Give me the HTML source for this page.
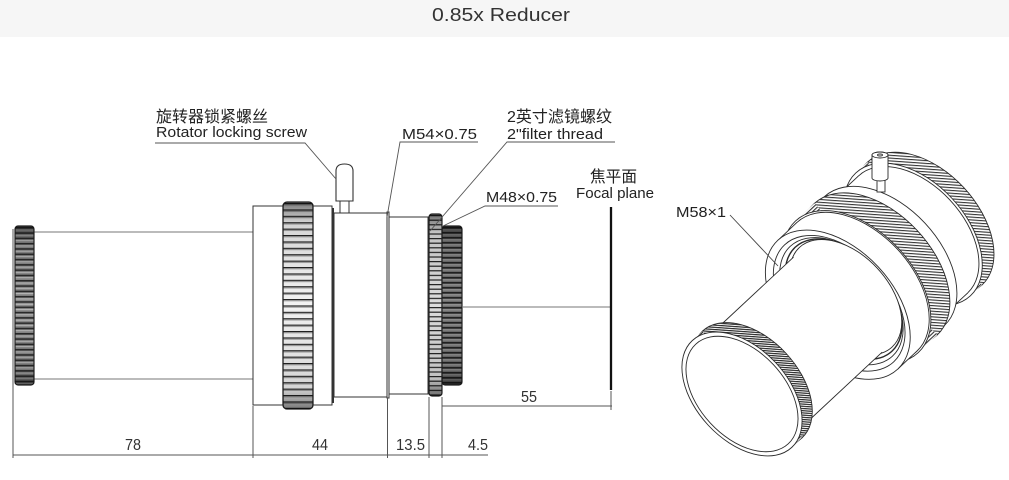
<!DOCTYPE html>
<html><head><meta charset="utf-8"><style>
html,body{margin:0;padding:0;background:#fff;width:1009px;height:480px;overflow:hidden}
svg{position:absolute;left:0;top:0;font-family:"Liberation Sans","Noto Sans CJK SC",sans-serif}
</style></head><body>
<svg width="1009" height="480" viewBox="0 0 1009 480" xmlns="http://www.w3.org/2000/svg">
<defs>
<pattern id="kb" patternUnits="userSpaceOnUse" x="0" y="203" width="10" height="6.4"><rect width="10" height="6.4" fill="#f2f2f2"/><rect width="10" height="1.2" fill="#222"/><rect y="1.2" width="10" height="1.1" fill="#9a9a9a"/></pattern>
<pattern id="kd" patternUnits="userSpaceOnUse" x="0" y="227" width="10" height="5.3"><rect width="10" height="5.3" fill="#8a8a8a"/><rect width="10" height="1.6" fill="#2a2a2a"/><rect y="2.6" width="10" height="0.9" fill="#c4c4c4"/></pattern>
<pattern id="ks" patternUnits="userSpaceOnUse" x="0" y="215" width="10" height="4.6"><rect width="10" height="4.6" fill="#dcdcdc"/><rect width="10" height="1.2" fill="#222"/></pattern>
<pattern id="kd2" patternUnits="userSpaceOnUse" x="0" y="227" width="10" height="5"><rect width="10" height="5" fill="#6e6e6e"/><rect width="10" height="1.6" fill="#222"/><rect y="2.5" width="10" height="0.8" fill="#b0b0b0"/></pattern>
<linearGradient id="cyl" x1="0" y1="0" x2="0" y2="1">
<stop offset="0" stop-color="#000" stop-opacity="0.5"/><stop offset="0.1" stop-color="#000" stop-opacity="0.12"/><stop offset="0.5" stop-color="#000" stop-opacity="0"/><stop offset="0.9" stop-color="#000" stop-opacity="0.12"/><stop offset="1" stop-color="#000" stop-opacity="0.5"/></linearGradient>
<pattern id="h2" patternUnits="userSpaceOnUse" width="2.2" height="10" patternTransform="rotate(47)"><rect width="2.2" height="10" fill="#fff"/><rect width="1.2" height="10" fill="#2a2a2a"/></pattern>
<pattern id="h3" patternUnits="userSpaceOnUse" width="2.8" height="10" patternTransform="rotate(47)"><rect width="2.8" height="10" fill="#fff"/><rect width="1.1" height="10" fill="#333"/></pattern>
</defs>

<!-- header -->
<rect x="0" y="0" width="1009" height="37" fill="#f6f6f6"/>
<text x="501" y="21" font-size="18" fill="#333" text-anchor="middle" textLength="138" lengthAdjust="spacingAndGlyphs">0.85x Reducer</text>

<!-- ================= SIDE VIEW ================= -->
<g stroke="#333" stroke-width="1" fill="none">
  <!-- tube -->
  <line x1="34" y1="232" x2="253" y2="232" stroke="#777"/>
  <line x1="34" y1="379" x2="253" y2="379" stroke="#777"/>
  <!-- left edge / ext -->
  <line x1="13" y1="229" x2="13" y2="458" stroke="#555"/>
  <!-- body -->
  <rect x="253" y="206" width="79" height="199" fill="#fff"/>
  <line x1="333" y1="208" x2="333" y2="403" stroke-width="2"/>
  <!-- screw section -->
  <rect x="334" y="213" width="53" height="184" fill="#fff"/>
  <rect x="387" y="212" width="2" height="186" fill="#fff"/>
  <rect x="389" y="217" width="39" height="177" fill="#fff"/>
</g>
<!-- left cap knurl -->
<rect x="15" y="226" width="19" height="159" rx="3" fill="url(#kd)" stroke="#222" stroke-width="1.2"/>
<rect x="15" y="226" width="19" height="159" rx="3" fill="url(#cyl)"/>
<!-- big knurl -->
<rect x="283" y="202" width="30" height="207" rx="4" fill="url(#kb)" stroke="#222" stroke-width="1.3"/>
<rect x="283" y="202" width="30" height="207" rx="4" fill="url(#cyl)"/>
<!-- small knurl -->
<rect x="429" y="214" width="13" height="182" rx="3" fill="url(#ks)" stroke="#222" stroke-width="1.2"/>
<rect x="429" y="214" width="13" height="182" rx="3" fill="url(#cyl)"/>
<!-- dark knurl -->
<rect x="442" y="226" width="20" height="159" rx="3" fill="url(#kd2)" stroke="#222" stroke-width="1.2"/>
<rect x="442" y="226" width="20" height="159" rx="3" fill="url(#cyl)"/>
<!-- screw -->
<path d="M340,201 L340,213 M349,201 L349,213" stroke="#333" stroke-width="1"/>
<rect x="340" y="201" width="9" height="12" fill="#fff" stroke="#333" stroke-width="1"/>
<path d="M336,201 L336,171 Q336,164 344.5,164 Q353,164 353,171 L353,201 Z" fill="#fff" stroke="#333" stroke-width="1.1"/>
<!-- axis & focal plane -->
<line x1="462" y1="307" x2="610" y2="307" stroke="#777" stroke-width="1"/>
<line x1="611" y1="207" x2="611" y2="390" stroke="#111" stroke-width="2.3"/>

<!-- dimensions -->
<g stroke="#555" stroke-width="1">
  <line x1="253" y1="406" x2="253" y2="458"/>
  <line x1="387.5" y1="398" x2="387.5" y2="458"/>
  <line x1="429" y1="397" x2="429" y2="458"/>
  <line x1="442" y1="397" x2="442" y2="458"/>
  <line x1="611" y1="391" x2="611" y2="410"/>
  <line x1="13" y1="455" x2="488" y2="455"/>
  <line x1="442" y1="406" x2="612" y2="406"/>
</g>
<g font-size="16" fill="#333" text-anchor="middle">
  <text x="133" y="450" textLength="16" lengthAdjust="spacingAndGlyphs">78</text>
  <text x="320" y="450" textLength="16" lengthAdjust="spacingAndGlyphs">44</text>
  <text x="410.5" y="450" textLength="29" lengthAdjust="spacingAndGlyphs">13.5</text>
  <text x="478" y="450" textLength="20" lengthAdjust="spacingAndGlyphs">4.5</text>
  <text x="529" y="402" textLength="16" lengthAdjust="spacingAndGlyphs">55</text>
</g>

<!-- labels side view -->
<g fill="#222">
  <text x="156" y="122" font-size="16" textLength="112" lengthAdjust="spacingAndGlyphs">旋转器锁紧螺丝</text>
  <text x="156" y="137" font-size="15" textLength="151" lengthAdjust="spacingAndGlyphs">Rotator locking screw</text>
  <text x="402" y="139" font-size="15" textLength="75" lengthAdjust="spacingAndGlyphs">M54×0.75</text>
  <text x="507" y="122" font-size="16" textLength="105" lengthAdjust="spacingAndGlyphs">2英寸滤镜螺纹</text>
  <text x="507" y="139" font-size="15" textLength="96" lengthAdjust="spacingAndGlyphs">2"filter thread</text>
  <text x="486" y="202" font-size="15" textLength="71" lengthAdjust="spacingAndGlyphs">M48×0.75</text>
  <text x="590" y="182" font-size="16" textLength="47" lengthAdjust="spacingAndGlyphs">焦平面</text>
  <text x="576" y="198" font-size="15" textLength="78" lengthAdjust="spacingAndGlyphs">Focal plane</text>
  <text x="676" y="217" font-size="15" textLength="50" lengthAdjust="spacingAndGlyphs">M58×1</text>
</g>
<g stroke="#555" stroke-width="0.9" fill="none">
  <polyline points="155,143 305,143 336,179"/>
  <polyline points="478,142 400,142 387,217"/>
  <polyline points="615,142 507,142 430,231"/>
  <polyline points="558,206 485,206 443,226"/>
</g>

<!-- ================= ISOMETRIC VIEW ================= -->
<g stroke="#2a2a2a" stroke-width="0.9">
  <!-- back knurl ring t234-250 R84 -->
  <ellipse cx="924.8" cy="223.5" rx="84" ry="53" transform="rotate(47 924.8 223.5)" fill="url(#h3)"/>
  <polygon points="970.4,295.8 982.1,284.9 867.5,162.1 855.8,173" fill="url(#h3)" stroke="none"/>
  <ellipse cx="913.1" cy="234.4" rx="84" ry="53" transform="rotate(47 913.1 234.4)" fill="#fff"/>
  <!-- screw section t195-234 R80 -->
  <ellipse cx="913.1" cy="234.4" rx="80" ry="50.4" transform="rotate(47 913.1 234.4)" fill="#fff"/>
  <polygon points="939.1,319.5 967.7,292.9 858.5,175.9 829.9,202.5" fill="#fff" stroke="none"/>
  <line x1="939.1" y1="319.5" x2="967.7" y2="292.9"/>
  <line x1="829.9" y1="202.5" x2="858.5" y2="175.9"/>
  <ellipse cx="884.5" cy="261" rx="80" ry="50.4" transform="rotate(47 884.5 261)" fill="#fff"/>
  <!-- body rear t183-195 R88 -->
  <ellipse cx="884.5" cy="261" rx="88" ry="55.4" transform="rotate(47 884.5 261)" fill="#fff"/>
  <polygon points="935.8,333.5 944.5,325.3 824.5,196.7 815.8,204.9" fill="#fff" stroke="none"/>
  <ellipse cx="875.8" cy="269.2" rx="88" ry="55.4" transform="rotate(47 875.8 269.2)" fill="#fff"/>
</g>
<!-- iso screw -->
<g stroke="#2a2a2a" stroke-width="0.9" fill="#fff">
  <rect x="877" y="176" width="8" height="16"/>
  <path d="M872,178 L872,155 A8,3 0 0 1 888,155 L888,178 A8,3 0 0 1 872,178 Z"/>
  <ellipse cx="880" cy="155" rx="8" ry="3"/>
  <ellipse cx="880" cy="155" rx="2.5" ry="1"/>
</g>
<g stroke="#2a2a2a" stroke-width="0.9">
  <!-- middle knurl t157-183 R90 -->
  <ellipse cx="875.8" cy="269.2" rx="90" ry="56.7" transform="rotate(47 875.8 269.2)" fill="url(#h3)"/>
  <polygon points="918.2,352.7 937.2,335 814.4,203.4 795.4,221.1" fill="url(#h3)" stroke="none"/>
  <ellipse cx="856.8" cy="286.9" rx="90" ry="56.7" transform="rotate(47 856.8 286.9)" fill="#fff"/>
  <!-- body front t131-157 R88 -->
  <ellipse cx="856.8" cy="286.9" rx="88" ry="55.4" transform="rotate(47 856.8 286.9)" fill="#fff"/>
  <polygon points="897.8,369 916.8,351.2 796.8,222.6 777.8,240.4" fill="#fff" stroke="none"/>
  <line x1="897.8" y1="369" x2="916.8" y2="351.2"/>
  <line x1="777.8" y1="240.4" x2="796.8" y2="222.6"/>
  <ellipse cx="837.8" cy="304.7" rx="88" ry="55.4" transform="rotate(47 837.8 304.7)" fill="#fff"/>
  <!-- inner rings -->
  <ellipse cx="839.2" cy="303.3" rx="80" ry="50.4" transform="rotate(47 839.2 303.3)" fill="#fff"/>
  <ellipse cx="841.4" cy="301.2" rx="75" ry="47.3" transform="rotate(47 841.4 301.2)" fill="#fff"/>
  <ellipse cx="843.6" cy="299.2" rx="71" ry="44.7" transform="rotate(47 843.6 299.2)" fill="#fff" stroke-width="1.4"/>
  <ellipse cx="845.8" cy="297.2" rx="68" ry="42.8" transform="rotate(47 845.8 297.2)" fill="#fff"/>
  <!-- tube t14-131 R65 -->
  <ellipse cx="837.8" cy="304.7" rx="65" ry="41" transform="rotate(47 837.8 304.7)" fill="#fff" stroke="none"/>
  <polygon points="796.5,432 882.1,352.2 793.5,257.2 707.9,337" fill="#fff" stroke="none"/>
  <line x1="796.5" y1="432" x2="882.1" y2="352.2"/>
  <line x1="707.9" y1="337" x2="793.5" y2="257.2"/>
  <!-- cap t0-14 R73 -->
  <ellipse cx="752.2" cy="384.5" rx="73" ry="46" transform="rotate(47 752.2 384.5)" fill="url(#h2)"/>
  <polygon points="791.8,447.4 802,437.9 702.4,331.1 692.2,340.6" fill="url(#h2)" stroke="none"/>
  <ellipse cx="742" cy="394" rx="73" ry="46" transform="rotate(47 742 394)" fill="#fff"/>
  <ellipse cx="742" cy="394" rx="68" ry="43" transform="rotate(47 742 394)" fill="#fff"/>
</g>
<line x1="730" y1="215" x2="778" y2="266" stroke="#444" stroke-width="0.9"/>
</svg>
</body></html>
